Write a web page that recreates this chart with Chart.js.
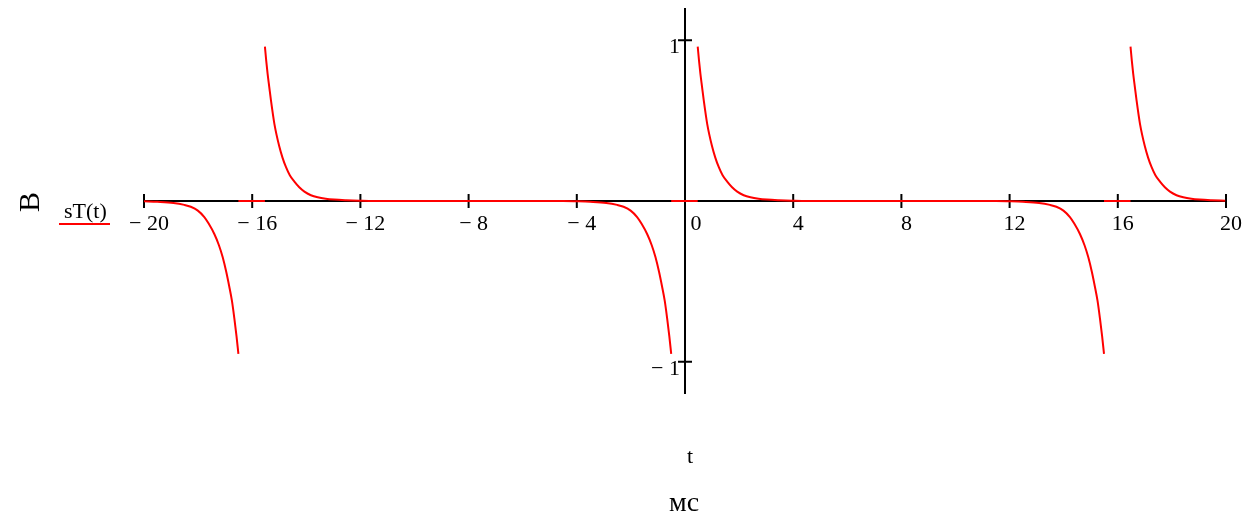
<!DOCTYPE html>
<html>
<head>
<meta charset="utf-8">
<script src="https://cdn.jsdelivr.net/npm/chart.js@4.4.1/dist/chart.umd.min.js"></script>
<style>
  html, body { margin: 0; padding: 0; background: #fff; }
  #wrap { width: 1251px; height: 517px; }
</style>
</head>
<body>
<div id="wrap"><canvas id="sTChart" width="1251" height="517"></canvas></div>
<script>
// t in ms, sT(t) in V; null splits the curve where it jumps
const tValues = [
  -20.0, -19.51, -18.91, -18.51, -18.27, -18.01, -17.77, -17.61, -17.4, -17.23, -17.09, -16.96, -16.85, -16.75, -16.66, -16.58, -16.51,
  null,
  -16.51, -15.53,
  null,
  -15.53, -15.48, -15.43, -15.37, -15.31, -15.18, -15.0, -14.88, -14.75, -14.61, -14.44, -14.26, -14.07, -13.83, -13.58, -13.28, -12.97, -12.53, -12.03,
  -11.5, -4.5,
  -4.0, -3.51, -2.91, -2.51, -2.27, -2.01, -1.77, -1.61, -1.4, -1.23, -1.09, -0.96, -0.85, -0.75, -0.66, -0.58, -0.51,
  null,
  -0.51, 0.47,
  null,
  0.47, 0.52, 0.57, 0.63, 0.69, 0.82, 1.0, 1.12, 1.25, 1.39, 1.56, 1.74, 1.93, 2.17, 2.42, 2.72, 3.03, 3.47, 3.97,
  4.5, 11.5,
  12.0, 12.49, 13.09, 13.49, 13.73, 13.99, 14.23, 14.39, 14.6, 14.77, 14.91, 15.04, 15.15, 15.25, 15.34, 15.42, 15.49,
  null,
  15.49, 16.47,
  null,
  16.47, 16.52, 16.57, 16.63, 16.69, 16.82, 17.0, 17.12, 17.25, 17.39, 17.56, 17.74, 17.93, 18.17, 18.42, 18.72, 19.03, 19.47, 19.97
];
const sTValues = [
  -0.002, -0.005, -0.012, -0.024, -0.036, -0.06, -0.1, -0.14, -0.205, -0.275, -0.35, -0.44, -0.53, -0.62, -0.73, -0.84, -0.95,
  null,
  0, 0,
  null,
  0.96, 0.87, 0.79, 0.71, 0.63, 0.48, 0.34, 0.27, 0.21, 0.16, 0.12, 0.085, 0.058, 0.036, 0.023, 0.014, 0.009, 0.005, 0.002,
  0, 0,
  -0.002, -0.005, -0.012, -0.024, -0.036, -0.06, -0.1, -0.14, -0.205, -0.275, -0.35, -0.44, -0.53, -0.62, -0.73, -0.84, -0.95,
  null,
  0, 0,
  null,
  0.96, 0.87, 0.79, 0.71, 0.63, 0.48, 0.34, 0.27, 0.21, 0.16, 0.12, 0.085, 0.058, 0.036, 0.023, 0.014, 0.009, 0.005, 0.002,
  0, 0,
  -0.002, -0.005, -0.012, -0.024, -0.036, -0.06, -0.1, -0.14, -0.205, -0.275, -0.35, -0.44, -0.53, -0.62, -0.73, -0.84, -0.95,
  null,
  0, 0,
  null,
  0.96, 0.87, 0.79, 0.71, 0.63, 0.48, 0.34, 0.27, 0.21, 0.16, 0.12, 0.085, 0.058, 0.036, 0.023, 0.014, 0.009, 0.005, 0.002
];
const xTicks = [-20, -16, -12, -8, -4, 0, 4, 8, 12, 16, 20];
const yTicks = [-1, 1];

const SERIF = '"Liberation Serif", "Times New Roman", serif';

// label text with a spaced minus sign
function tickText(v) {
  return v < 0 ? '\u2212 ' + Math.abs(v) : String(v);
}

// axes crossing at the origin, with ticks straddling the lines
const crossAxes = {
  id: 'crossAxes',
  beforeDatasetsDraw(chart) {
    const ctx = chart.ctx;
    const xs = chart.scales.x, ys = chart.scales.y;
    const x0 = xs.getPixelForValue(0), y0 = ys.getPixelForValue(0);
    const area = chart.chartArea;
    ctx.save();
    ctx.strokeStyle = '#000';
    ctx.lineWidth = 2;
    ctx.beginPath();
    ctx.moveTo(area.left, y0);
    ctx.lineTo(area.right, y0);
    ctx.moveTo(x0, area.top);
    ctx.lineTo(x0, area.bottom);
    xTicks.forEach(v => {
      const px = xs.getPixelForValue(v);
      ctx.moveTo(px, y0 - 7);
      ctx.lineTo(px, y0 + 7);
    });
    yTicks.forEach(v => {
      const py = ys.getPixelForValue(v);
      ctx.moveTo(x0 - 7, py);
      ctx.lineTo(x0 + 7, py);
    });
    ctx.stroke();
    ctx.restore();
  },
  afterDraw(chart) {
    const ctx = chart.ctx;
    const xs = chart.scales.x, ys = chart.scales.y;
    const x0 = xs.getPixelForValue(0), y0 = ys.getPixelForValue(0);
    ctx.save();
    ctx.fillStyle = '#000';
    ctx.font = '22px ' + SERIF;
    ctx.textBaseline = 'alphabetic';

    // x tick labels
    ctx.textAlign = 'center';
    xTicks.forEach(v => {
      const shift = v === 0 ? 11 : 5;
      ctx.fillText(tickText(v), xs.getPixelForValue(v) + shift, y0 + 29);
    });

    // y tick labels
    ctx.textAlign = 'right';
    yTicks.forEach(v => {
      ctx.fillText(tickText(v), x0 - 5, ys.getPixelForValue(v) + 13);
    });

    // legend
    ctx.textAlign = 'left';
    ctx.fillText('sT(t)', 64, 218);
    ctx.strokeStyle = '#ff0000';
    ctx.lineWidth = 2;
    ctx.beginPath();
    ctx.moveTo(59, 224);
    ctx.lineTo(110, 224);
    ctx.stroke();

    // axis titles
    ctx.textAlign = 'center';
    ctx.fillText('t', 690, 463);
    ctx.font = '28px ' + SERIF;
    ctx.fillText('мс', 684, 511);

    ctx.translate(31, 202);
    ctx.rotate(-Math.PI / 2);
    ctx.textBaseline = 'middle';
    ctx.font = '30px ' + SERIF;
    ctx.fillText('В', 0, 0);
    ctx.restore();
  }
};

const points = tValues.map((t, i) => (t === null ? { x: NaN, y: null } : { x: t, y: sTValues[i] }));

new Chart(document.getElementById('sTChart'), {
  type: 'line',
  data: {
    datasets: [{
      label: 'sT(t)',
      data: points,
      borderColor: '#ff0000',
      borderWidth: 2,
      pointRadius: 0,
      fill: false,
      spanGaps: false,
      cubicInterpolationMode: 'monotone'
    }]
  },
  options: {
    responsive: false,
    animation: false,
    layout: { padding: { left: 144, right: 25, top: 8, bottom: 123 } },
    plugins: { legend: { display: false }, tooltip: { enabled: false } },
    scales: {
      x: { type: 'linear', min: -20, max: 20, display: false },
      y: { min: -1.2, max: 1.2, display: false }
    }
  },
  plugins: [crossAxes]
});
</script>
</body>
</html>
